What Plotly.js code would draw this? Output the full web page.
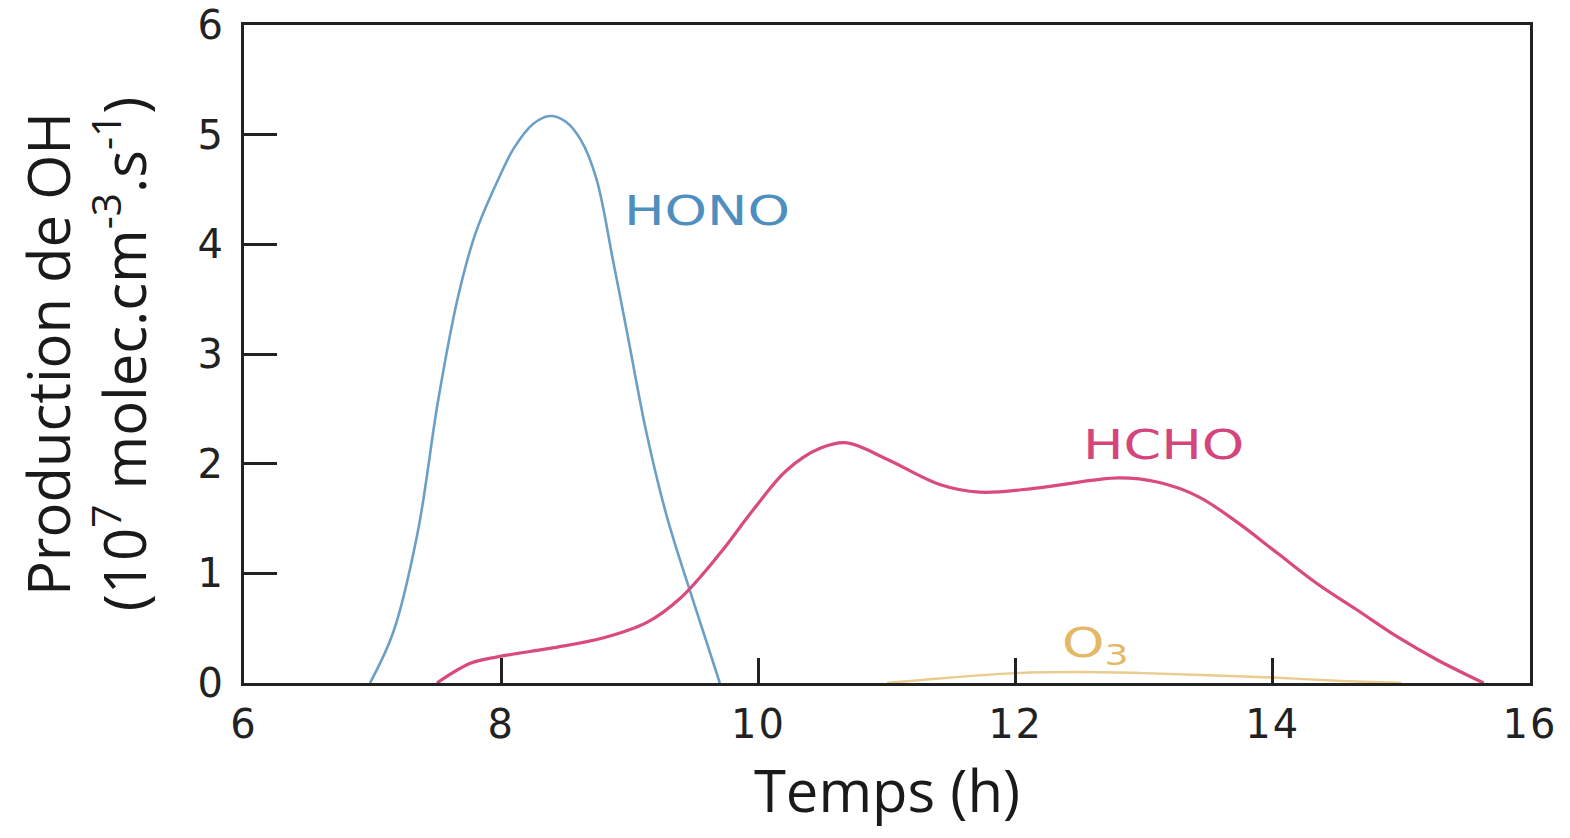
<!DOCTYPE html>
<html>
<head>
<meta charset="utf-8">
<script src="https://cdn.plot.ly/plotly-3.0.1.min.js"></script>
<style>
html, body { margin: 0; padding: 0; background: #ffffff; }
#chart { width: 1570px; height: 838px; }
.annotation-text { transform-box: fill-box; transform-origin: center; transform: scaleX(1.35); }
.xtick text, .ytick text { letter-spacing: 2px; }
</style>
</head>
<body>
<div id="chart"></div>
<script>
// HONO
const honoX = [6.98, 7.16, 7.35, 7.51, 7.66, 7.80, 7.98, 8.10, 8.25, 8.38, 8.50, 8.62, 8.74, 8.87, 8.98, 9.13, 9.29, 9.49, 9.70];
const honoY = [0, 0.46, 1.37, 2.58, 3.50, 4.10, 4.60, 4.88, 5.10, 5.17, 5.12, 4.95, 4.60, 3.85, 3.19, 2.28, 1.51, 0.76, 0];
// HCHO
const hchoX = [7.50, 7.76, 7.98, 8.40, 8.79, 9.13, 9.39, 9.70, 9.96, 10.22, 10.48, 10.69, 11.00, 11.41, 11.72, 12.18, 12.80, 13.11, 13.42, 13.73, 14.04, 14.34, 14.65, 14.97, 15.28, 15.64];
const hchoY = [0, 0.18, 0.24, 0.32, 0.41, 0.55, 0.77, 1.18, 1.58, 1.94, 2.14, 2.19, 2.04, 1.81, 1.74, 1.78, 1.87, 1.83, 1.70, 1.46, 1.18, 0.91, 0.67, 0.42, 0.21, 0];
// O3
const o3X = [11.0, 11.5, 12.0, 12.5, 13.0, 13.5, 14.0, 14.5, 15.0];
const o3Y = [0, 0.05, 0.09, 0.10, 0.09, 0.07, 0.05, 0.02, 0];

const xTicks = [6, 8, 10, 12, 14, 16];
const yTicks = [0, 1, 2, 3, 4, 5, 6];
const labels = ["HONO", "HCHO", "O<sub>3</sub>"];
const labelX = [9.6, 13.15, 12.62];
const labelY = [4.3, 2.17, 0.34];

const colHONO = "#6a9fc8", colHCHO = "#d94a7e", colO3 = "#e9cc8e";

const traces = [
  {x: honoX, y: honoY, mode: "lines", line: {color: colHONO, width: 2.6, shape: "spline", smoothing: 1}, hoverinfo: "skip"},
  {x: hchoX, y: hchoY, mode: "lines", line: {color: colHCHO, width: 3.2, shape: "spline", smoothing: 1}, hoverinfo: "skip"},
  {x: o3X, y: o3Y, mode: "lines", line: {color: colO3, width: 2.4, shape: "spline", smoothing: 1}, hoverinfo: "skip"}
];

const tickFont = {family: "DejaVu Sans, Verdana, sans-serif", size: 40, color: "#222"};
const titleFont = {family: "Open Sans, Noto Sans, sans-serif", size: 58, color: "#1a1a1a"};

const layout = {
  width: 1570, height: 838,
  paper_bgcolor: "#ffffff", plot_bgcolor: "#ffffff",
  margin: {l: 244, r: 40, t: 25, b: 155},
  showlegend: false,
  xaxis: {
    range: [6, 16], tickvals: xTicks, ticktext: xTicks.map(String),
    showgrid: false, zeroline: false,
    showline: true, linecolor: "#222", linewidth: 3, mirror: true,
    ticks: "inside", ticklen: 25, tickwidth: 3, tickcolor: "#222",
    tickfont: tickFont, ticklabelstandoff: 4,
    title: {text: "Temps (h)", font: titleFont, standoff: 26}
  },
  yaxis: {
    range: [0, 6], tickvals: yTicks, ticktext: yTicks.map(String),
    showgrid: false, zeroline: false,
    showline: true, linecolor: "#222", linewidth: 3, mirror: true,
    ticks: "inside", ticklen: 33, tickwidth: 3, tickcolor: "#222",
    tickfont: tickFont, ticklabelstandoff: 8,
    title: {text: "Production de OH<br>(10<sup>7</sup> molec.cm<sup>-3</sup>.s<sup>-1</sup>)", font: titleFont, standoff: 33}
  },
  annotations: labels.map((t, i) => ({
    x: labelX[i], y: labelY[i], xref: "x", yref: "y", text: t, showarrow: false,
    font: {family: "DejaVu Sans, Verdana, sans-serif", size: 40, color: ["#4f8fc0", "#d4457c", "#e3b867"][i]}
  }))
};

Plotly.newPlot("chart", traces, layout, {displayModeBar: false, staticPlot: true});
</script>
</body>
</html>
